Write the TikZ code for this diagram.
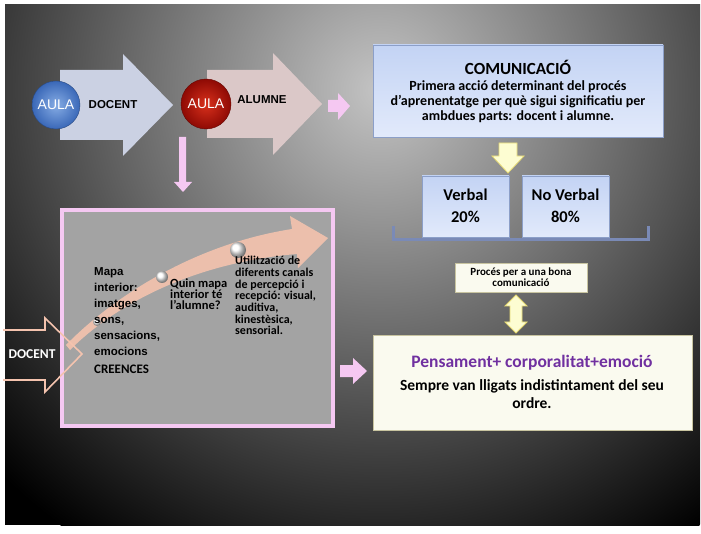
\documentclass[tikz,border=0pt]{standalone}
\usepackage{fontspec}
\setmainfont{Carlito}
\newfontfamily\arialfont{Liberation Sans}
\definecolor{fondclair}{HTML}{C4C4C4}
\definecolor{flechebleue}{HTML}{CBD1E3}
\definecolor{flecherose}{HTML}{DBC8C8}
\definecolor{rose}{HTML}{F5C8F2}
\definecolor{grisboite}{HTML}{A3A3A3}
\definecolor{peche}{HTML}{F4C3AE}
\definecolor{bleuclair}{HTML}{86ACE4}
\definecolor{bleufonce}{HTML}{3A68B8}
\definecolor{rougeclair}{HTML}{D8301C}
\definecolor{rougefonce}{HTML}{8E0A04}
\definecolor{bleuhaut}{HTML}{C3D3F4}
\definecolor{bleubas}{HTML}{E2EAFB}
\definecolor{bordbleu}{HTML}{8C9FC8}
\definecolor{jaune}{HTML}{FDFDD2}
\definecolor{bordjaune}{HTML}{E6DA74}
\definecolor{creme}{HTML}{FAFAEF}
\definecolor{bordcreme}{HTML}{C8C4A0}
\definecolor{violet}{HTML}{7030A0}
\definecolor{accolade}{HTML}{7A8AB6}

\begin{document}
\begin{tikzpicture}[x=1pt,y=-1pt,
    boitebleue/.style={draw=bordbleu,top color=bleuhaut,bottom color=bleubas,line width=0.8pt},
    boitecreme/.style={draw=bordcreme,fill=creme,line width=0.8pt},
    flechejaune/.style={draw=bordjaune,fill=jaune,line width=0.8pt},
    gras/.style={inner sep=0pt,align=center,font=\bfseries}]
\useasboundingbox (0,0) rectangle (701,534);
\fill[white] (0,0) rectangle (701,534);
\begin{scope}
  \clip (5,5) rectangle (700,525);
  \fill[black] (5,5) rectangle (700,525);
  \shade[inner color=fondclair,outer color=black] (380,90) circle (540);
\end{scope}
% fleches AULA
\fill[flechebleue] (60,70)--(123,70)--(123,54)--(173,105)--(123,156)--(123,140)--(60,140)--cycle;
\fill[flecherose] (207,70)--(273,70)--(273,53)--(322,104)--(273,155)--(273,138)--(207,138)--cycle;
\shadedraw[inner color=bleuclair,outer color=bleufonce,draw=bleufonce!70!black] (56,105) circle (24);
\shadedraw[inner color=rougeclair,outer color=rougefonce,draw=rougefonce!70!black] (206,104) circle (25);
\node[text=white,font=\arialfont\fontsize{14}{16}\selectfont] (aulaA) at (56,105) {AULA};
\node[text=white,font=\arialfont\fontsize{14}{16}\selectfont] (aulaB) at (206,104) {AULA};
\node[gras,font=\arialfont\bfseries\fontsize{11.5}{13}\selectfont] (docentA) at (113,105) {DOCENT};
\node[gras,font=\arialfont\bfseries\fontsize{11.5}{13}\selectfont] (alumne) at (262,100) {ALUMNE};
% petites fleches roses
\fill[rose] (328,100)--(338,100)--(338,93)--(350,106)--(338,120)--(338,112)--(328,112)--cycle;
\fill[rose] (179,137)--(186,137)--(186,182)--(192,182)--(183,192)--(174,182)--(179,182)--cycle;
\fill[rose] (340,365)--(353,365)--(353,358)--(367,371)--(353,384)--(353,377)--(340,377)--cycle;
% boite grise
\draw[line width=4pt,draw=rose,fill=grisboite] (62,210) rectangle (333,426);
\fill[peche,opacity=0.9] (66,345) .. controls (110,300) and (190,245) .. (292,229)
    --(290,216)--(328,238)--(298,268)--(297,254)
    .. controls (200,262) and (120,300) .. (70,350)--cycle;
\foreach \x/\y/\r in {97/322/4, 162/277/6, 238/250/8}
    \shade[ball color=white] (\x,\y) circle (\r);
\draw[peche,line width=1.6pt] (3,330)--(45,330)--(45,318)--(82,354)--(45,392)--(45,380)--(3,380);
\node[gras,text=white,font=\bfseries\fontsize{13.5}{15}\selectfont] (docentB) at (32,354) {DOCENT};
\node[gras,anchor=north west,align=left,font=\arialfont\bfseries\fontsize{11.5}{16}\selectfont] (mapa) at (94,267)
    {Mapa\\interior:\\imatges,\\sons,\\sensacions,\\emocions};
\node[gras,anchor=west,font=\bfseries\fontsize{13}{15}\selectfont] (creences) at (94,369) {CREENCES};
\node[gras,anchor=north west,align=left,font=\bfseries\fontsize{12.5}{11}\selectfont] (quin) at (170,279)
    {Quin mapa\\interior té\\l'alumne?};
\node[gras,anchor=north west,align=left,font=\bfseries\fontsize{12}{11.7}\selectfont] (canals) at (235,256)
    {Utilització de\\diferents canals\\de percepció i\\recepció: visual,\\auditiva,\\kinestèsica,\\sensorial.};
% comunicacio
\draw[boitebleue] (373,45) rectangle (663,137);
\node[gras,font=\bfseries\fontsize{17}{19}\selectfont] (comunicacio) at (518,67) {COMUNICACIÓ};
\node[gras,font=\bfseries\fontsize{14}{15}\selectfont] (primera) at (518,102)
    {Primera acció determinant del procés\\d'aprenentatge per què sigui significatiu per\\ambdues parts: docent i alumne.};
\draw[flechejaune] (499,143)--(517,143)--(517,156)--(524,156)--(508,173)--(492,156)--(499,156)--cycle;
\draw[accolade,line width=3pt] (393,226)--(393,240)--(648,240)--(648,226);
\foreach \x/\t/\p in {422/Verbal/20\%, 522/No Verbal/80\%} {
    \draw[boitebleue] (\x,176) rectangle ++(87,61);
    \node[gras,font=\bfseries\fontsize{16.5}{22}\selectfont] (verbal\x) at (\x+43.5,206) {\t\\\p};
}
% proces
\draw[boitecreme] (455,263) rectangle (587,292);
\node[gras,font=\bfseries\fontsize{11}{11}\selectfont] (proces) at (521,277.5) {Procés per a una bona\\comunicació};
\draw[flechejaune] (516,295)--(527,306)--(522,306)--(522,322)--(527,322)--(516,333)--(505,322)--(510,322)--(510,306)--(505,306)--cycle;
\draw[boitecreme] (373,335) rectangle (692,430);
\node[gras,text=violet,font=\bfseries\fontsize{17.5}{20}\selectfont] (pensament) at (532,363) {Pensament+ corporalitat+emoció};
\node[gras,font=\bfseries\fontsize{15.5}{18}\selectfont] (sempre) at (532,394) {Sempre van lligats indistintament del seu\\ordre.};
\end{tikzpicture}
\end{document}
